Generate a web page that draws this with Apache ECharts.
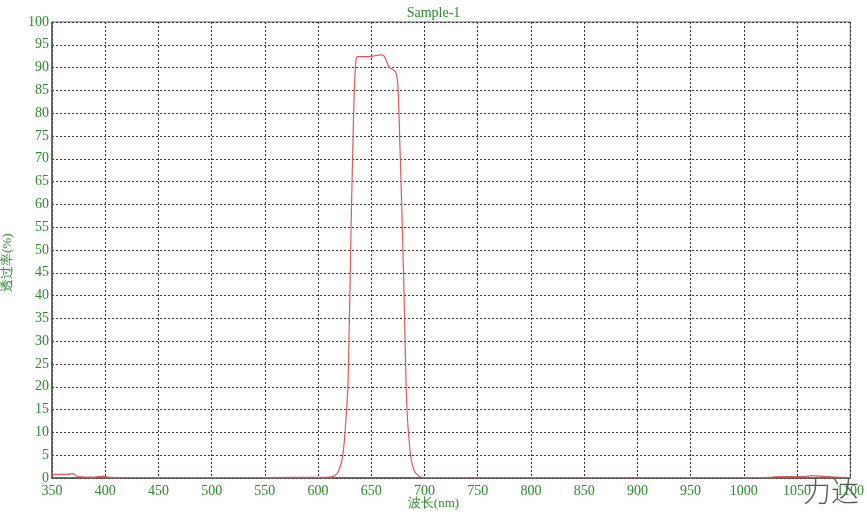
<!DOCTYPE html>
<html>
<head>
<meta charset="utf-8">
<script src="https://cdn.jsdelivr.net/npm/echarts@6/dist/echarts.min.js"></script>
<style>
html,body{margin:0;padding:0;background:#fff;}
#chart{width:867px;height:516px;}
</style>
</head>
<body>
<div id="chart"></div>
<script>
// Wavelength (nm)
var wavelength = [350,360,366,369,372,375,380,390,398,402,410,450,500,550,600,610,613.5,616,618,620,622,623.5,625,626.5,628,629,630,631,632,633,634,635,636,637,640,648,653,659,662,665,667,670,673,675,677,679,681,682.5,684,686,687.5,690,692,695,698,705,800,900,1000,1025,1030,1050,1060,1065,1075,1085,1100];
// Transmittance (%)
var transmittance = [0.8,0.8,0.8,1.0,0.6,0.3,0.2,0.2,0.4,0.2,0.1,0.1,0.1,0.1,0.15,0.2,0.3,0.6,1.0,2.0,3.5,5.5,9,14,20,30,42,55,66,76,85,90,92,92.4,92.4,92.4,92.6,92.8,92.5,91,90,89.6,89,86,72,56,38,22,13,7,4,1.8,1.0,0.4,0.15,0.1,0.1,0.1,0.1,0.15,0.3,0.3,0.4,0.5,0.35,0.2,0.1];
var xTicks = [350,400,450,500,550,600,650,700,750,800,850,900,950,1000,1050,1100];
var yTicks = [0,5,10,15,20,25,30,35,40,45,50,55,60,65,70,75,80,85,90,95,100];
var titleText = 'Sample-1';
var xName = '波长(nm)';
var yName = '透过率(%)';
var watermark = '力达';

var green = '#2a8a2a';
var serif = '"Liberation Serif","DejaVu Serif",serif';
var pts = wavelength.map(function(w,i){return [w, transmittance[i]];});

var chart = echarts.init(document.getElementById('chart'));
chart.setOption({
  backgroundColor:'#fff',
  animation:false,
  title:{text:titleText,left:'center',top:1,textStyle:{color:green,fontFamily:serif,fontSize:14,fontWeight:'normal'}},
  grid:{left:52,right:14,top:22,bottom:38,show:true,borderColor:'#666',borderWidth:1},
  xAxis:{type:'value',min:xTicks[0],max:xTicks[xTicks.length-1],interval:50,
    axisLine:{show:true,lineStyle:{color:'#555',width:1.5}},
    axisTick:{show:false},
    axisLabel:{color:green,fontFamily:serif,fontSize:14,margin:6,formatter:function(v){return String(v);}},
    splitLine:{show:true,lineStyle:{color:'#333',type:[2,2],width:1}}},
  yAxis:{type:'value',min:yTicks[0],max:yTicks[yTicks.length-1],interval:5,
    axisLine:{show:true,lineStyle:{color:'#555',width:1.5}},
    axisTick:{show:false},
    axisLabel:{color:green,fontFamily:serif,fontSize:14,margin:3,formatter:function(v){return String(v);}},
    splitLine:{show:true,lineStyle:{color:'#333',type:[2,2],width:1}}},
  series:[{type:'line',data:pts,showSymbol:false,smooth:0.3,
    lineStyle:{color:'#e05858',width:1.2},z:5}],
  graphic:[
    {type:'text',left:'center',top:497,style:{text:xName,fill:green,font:'13px '+serif}},
    {type:'text',x:1,y:292,rotation:Math.PI/2,style:{text:yName,fill:green,font:'13px '+serif}},
    {type:'text',x:803,y:477,style:{text:watermark,fill:'#555',font:'300 28px "Noto Sans CJK SC"'}}
  ]
});
</script>
</body>
</html>
